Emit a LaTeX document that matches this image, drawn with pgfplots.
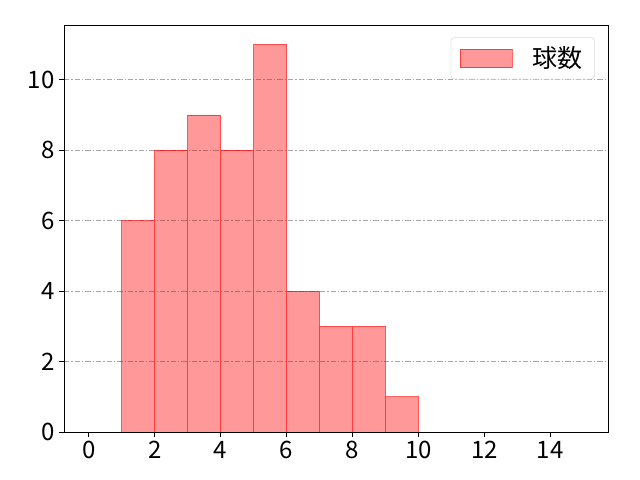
\documentclass[border=0pt]{standalone}
\usepackage{pgfplots}
\pgfplotsset{compat=1.18}
\usepackage{fontspec}
\setmainfont{Noto Sans CJK JP}
\begin{document}
\begin{tikzpicture}
\begin{axis}[
  scale only axis,
  width=408pt, height=305.25pt,
  xmin=-0.75, xmax=15.75,
  ymin=0, ymax=11.55,
  xtick={0,2,...,14},
  ytick={0,2,...,10},
  tick align=outside,
  tick pos=left,
  major tick length=3.6pt,
  tick style={black, line width=0.6pt},
  axis line style={line width=0.6pt},
  ymajorgrids=true,
  grid style={gray!70, line width=0.5pt, dash pattern=on 4pt off 1.5pt on 1pt off 1.5pt},
  ticklabel style={font=\fontsize{18}{20}\selectfont},
  /pgf/number format/assume math mode=true,
  legend style={at={(0.976,0.97)}, anchor=north east, draw=gray!30, rounded corners=3pt,
    font=\fontsize{18.75}{20}\selectfont, inner xsep=7pt, inner ysep=5pt,
    nodes={inner sep=2pt}},
  legend image code/.code={\draw[#1, draw opacity=0.6, sharp corners] (0pt,-7pt) rectangle (39pt,7pt);},
]
\addplot[ybar interval, fill=red, fill opacity=0.4, draw=red, draw opacity=0.6]
  coordinates {(1,6) (2,8) (3,9) (4,8) (5,11) (6,4) (7,3) (8,3) (9,1) (10,0)};
\addlegendentry{\hspace{13pt}球数}
\end{axis}
\path (current axis.south west) ++(-48pt,-36pt) (current axis.north east) ++(24pt,18.75pt);
\end{tikzpicture}
\end{document}
